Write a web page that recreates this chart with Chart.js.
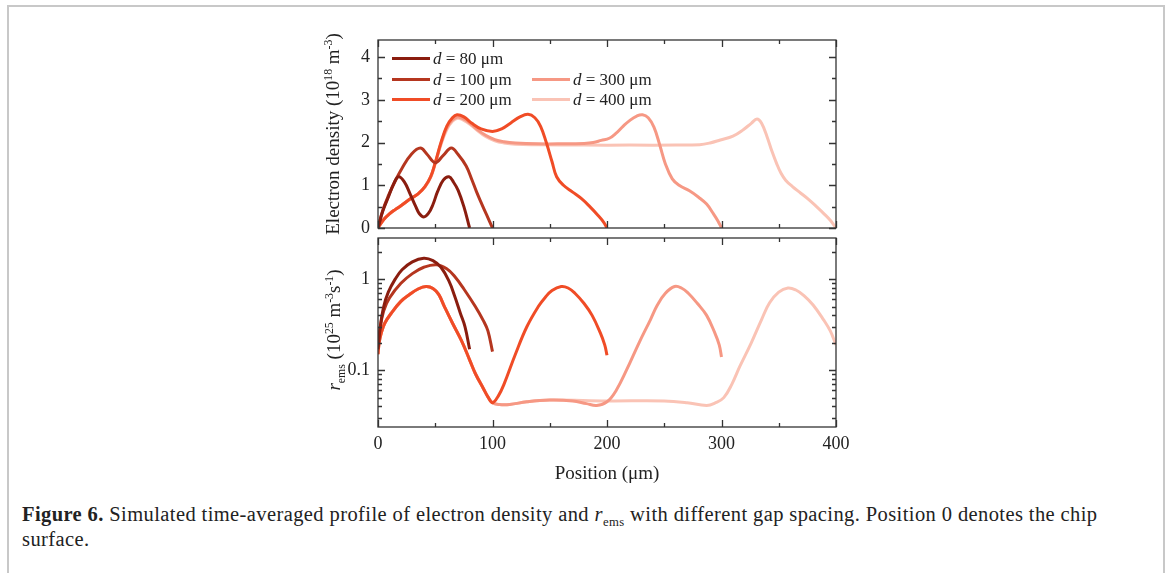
<!DOCTYPE html>
<html lang="en">
<head>
  <meta charset="UTF-8">
  <title>Figure 6</title>
  <script src="https://cdn.jsdelivr.net/npm/chart.js"></script>
  <style>
    body { margin: 0; background: #fff; font-family: "Liberation Serif", serif; color: #222; }
    #frame { position: absolute; left: 7px; top: 5px; width: 1154px; height: 620px; border: 2px solid #c8c8c8; border-bottom: none; }
    .plot { position: absolute; left: 270px; }
    .ytitle { position: absolute; white-space: nowrap; font-size: 19px; transform: translate(-50%, -50%) rotate(-90deg); z-index: 2; }
    .xtitle { position: absolute; white-space: nowrap; font-size: 19px; transform: translate(-50%, -50%); z-index: 2; }
    sup, sub { font-size: 0.62em; line-height: 0; }
    .leg { position: absolute; display: flex; align-items: center; height: 21px; font-size: 17px; white-space: nowrap; z-index: 2; }
    .sw { display: inline-block; width: 38px; height: 3px; margin-right: 3px; }
    #caption { position: absolute; left: 22px; top: 502px; font-size: 20.5px; letter-spacing: 0.4px; line-height: 25px; white-space: nowrap; }
  </style>
</head>
<body>
  <div id="frame"></div>

  <div class="plot" style="top:15px;"><canvas id="densChart" width="600" height="238"></canvas></div>
  <div class="plot" style="top:213px;"><canvas id="remsChart" width="600" height="254"></canvas></div>

  <div class="ytitle" style="left:333px; top:134px;">Electron density (10<sup>18</sup> m<sup>-3</sup>)</div>
  <div class="ytitle" style="left:334px; top:330px;"><i>r</i><sub>ems</sub> (10<sup>25</sup> m<sup>-3</sup>s<sup>-1</sup>)</div>
  <div class="xtitle" style="left:607px; top:473px;">Position (μm)</div>

  <div id="legend"></div>

  <div id="caption"><b>Figure 6.</b> Simulated time-averaged profile of electron density and <i>r</i><sub>ems</sub> with different gap spacing. Position 0 denotes the chip<br>surface.</div>

  <script>
    // gap spacings (um)
    const gaps = ['80', '100', '200', '300', '400'];
    const colors = ['#8a1d0f', '#b5361f', '#f04c26', '#f69884', '#fac3b5'];

    // electron density (10^18 m^-3) vs position (um)
    const posD80 = [0, 4, 9, 14, 18, 23, 28, 33, 36, 40, 44, 48, 52, 57, 62, 66, 70, 75, 80];
    const dens80 = [0, 0.38, 0.72, 1.05, 1.2, 1.08, 0.8, 0.5, 0.34, 0.26, 0.34, 0.55, 0.85, 1.12, 1.2, 1.07, 0.88, 0.5, 0];

    const posD100 = [0, 4, 9, 15, 21, 29, 37, 43, 50, 57, 64, 70, 77, 82, 86, 90, 95, 100];
    const dens100 = [0, 0.4, 0.75, 1.1, 1.4, 1.72, 1.87, 1.72, 1.53, 1.7, 1.87, 1.72, 1.45, 1.13, 0.85, 0.6, 0.3, 0];

    const posD200 = [0, 5, 10, 15, 20, 27, 35, 41, 46, 50, 55, 60, 65, 69, 75, 82, 90, 100, 108, 116, 124, 131, 137, 142, 147, 152, 156, 162, 170, 178, 185, 192, 197, 200];
    const dens200 = [0, 0.2, 0.33, 0.43, 0.52, 0.66, 0.8, 0.97, 1.2, 1.53, 2.0, 2.38, 2.58, 2.65, 2.6, 2.45, 2.32, 2.26, 2.32, 2.46, 2.6, 2.66, 2.58, 2.38, 2.0, 1.55, 1.2, 1.0, 0.84, 0.68, 0.5, 0.3, 0.14, 0];

    const posD300 = [0, 5, 10, 15, 20, 27, 35, 41, 46, 50, 55, 60, 65, 70, 78, 86, 94, 102, 110, 120, 140, 160, 180, 188, 195, 202, 208, 214, 220, 226, 231, 236, 241, 246, 251, 257, 263, 272, 280, 287, 293, 297, 300];
    const dens300 = [0, 0.2, 0.33, 0.43, 0.52, 0.66, 0.8, 0.97, 1.2, 1.52, 1.98, 2.34, 2.53, 2.6, 2.5, 2.32, 2.17, 2.07, 2.02, 1.99, 1.97, 1.97, 1.98, 2.0, 2.05, 2.1, 2.22, 2.38, 2.52, 2.62, 2.65, 2.58, 2.36, 1.95, 1.5, 1.15, 1.0, 0.87, 0.72, 0.56, 0.33, 0.16, 0];

    const posD400 = [0, 5, 10, 15, 20, 27, 35, 41, 46, 50, 55, 60, 65, 70, 78, 86, 94, 102, 110, 120, 140, 180, 220, 260, 281, 290, 299, 310, 319, 326, 331, 335, 340, 344, 348, 352, 356, 362, 369, 376, 383, 390, 395, 400];
    const dens400 = [0, 0.2, 0.33, 0.43, 0.52, 0.66, 0.8, 0.96, 1.18, 1.5, 1.95, 2.3, 2.5, 2.57, 2.47, 2.3, 2.14, 2.04, 1.99, 1.96, 1.95, 1.94, 1.94, 1.94, 1.95, 1.99, 2.06, 2.15, 2.3, 2.45, 2.55, 2.45, 2.12, 1.8, 1.52, 1.28, 1.12, 0.97, 0.82, 0.67, 0.5, 0.32, 0.18, 0];

    // r_ems (10^25 m^-3 s^-1) vs position (um)
    const posR80 = [0, 2, 5, 9, 15, 21, 30, 40, 48, 55, 62, 67, 72, 76, 80];
    const rems80 = [0.17, 0.3, 0.5, 0.72, 1.0, 1.27, 1.55, 1.7, 1.6, 1.35, 0.95, 0.65, 0.42, 0.3, 0.17];

    const posR100 = [0, 2, 5, 10, 20, 30, 40, 51, 60, 67, 75, 85, 92, 96, 100];
    const rems100 = [0.18, 0.3, 0.45, 0.62, 0.9, 1.15, 1.35, 1.44, 1.3, 1.07, 0.78, 0.5, 0.35, 0.27, 0.16];

    const posR200 = [0, 1, 3, 6, 12, 20, 27, 35, 42, 48, 53, 58, 65, 73, 80, 85, 92, 96, 100, 105, 110, 120, 130, 140, 146, 152, 160, 166, 172, 180, 187, 194, 198, 200];
    const rems200 = [0.15, 0.2, 0.26, 0.33, 0.43, 0.57, 0.67, 0.78, 0.83, 0.79, 0.68, 0.5, 0.33, 0.21, 0.13, 0.092, 0.063, 0.051, 0.044, 0.052, 0.07, 0.15, 0.3, 0.5, 0.63, 0.75, 0.83, 0.8, 0.7, 0.54, 0.4, 0.26, 0.19, 0.146];

    const posR300 = [0, 1, 3, 6, 12, 20, 27, 35, 42, 48, 53, 58, 65, 73, 80, 85, 92, 96, 100, 106, 115, 130, 150, 170, 182, 191, 200, 208, 217, 228, 238, 244, 251, 259, 265, 271, 279, 287, 294, 298, 300];
    const rems300 = [0.15, 0.2, 0.26, 0.33, 0.43, 0.57, 0.67, 0.78, 0.83, 0.79, 0.68, 0.5, 0.33, 0.21, 0.13, 0.092, 0.063, 0.051, 0.044, 0.042, 0.042, 0.045, 0.047, 0.046, 0.043, 0.041, 0.045, 0.06, 0.1, 0.2, 0.36, 0.52, 0.7, 0.83, 0.8, 0.7, 0.54, 0.4, 0.26, 0.19, 0.14];

    const posR400 = [0, 1, 3, 6, 12, 20, 27, 35, 42, 48, 53, 58, 65, 73, 80, 85, 92, 96, 100, 106, 115, 130, 150, 200, 250, 270, 287, 295, 302, 309, 316, 326, 335, 342, 350, 358, 365, 372, 380, 389, 395, 400];
    const rems400 = [0.15, 0.2, 0.26, 0.33, 0.43, 0.57, 0.67, 0.78, 0.83, 0.79, 0.68, 0.5, 0.33, 0.21, 0.13, 0.092, 0.063, 0.051, 0.044, 0.042, 0.042, 0.045, 0.047, 0.046, 0.046, 0.044, 0.041, 0.044, 0.05, 0.07, 0.11, 0.2, 0.36, 0.55, 0.72, 0.8, 0.76, 0.66, 0.52, 0.36, 0.27, 0.19];

    // axis ticks
    const xTickLabels = [0, 100, 200, 300, 400];
    const xMinorTicks = [50, 150, 250, 350];
    const densTickLabels = [0, 1, 2, 3, 4];
    const densMinorTicks = [0.5, 1.5, 2.5, 3.5];
    const remsTickLabels = [0.1, 1];
    const remsMinorTicks = [0.03, 0.04, 0.05, 0.06, 0.07, 0.08, 0.09, 0.2, 0.3, 0.4, 0.5, 0.6, 0.7, 0.8, 0.9, 2];

    function series(xs, ys) {
      return xs.map((x, i) => ({ x: x, y: ys[i] }));
    }

    function makeDatasets(posList, valList) {
      return gaps.map((g, i) => ({
        label: 'd = ' + g + ' μm',
        data: series(posList[i], valList[i]),
        borderColor: colors[i],
        borderWidth: 3,
        pointRadius: 0,
        fill: false,
        tension: 0.4
      }));
    }

    // closed frame with inward tick marks on all four sides
    const frameTicks = {
      id: 'frameTicks',
      afterDatasetsDraw(chart, args, opts) {
        const { ctx, chartArea: a } = chart;
        const xs = chart.scales.x, ys = chart.scales.y;
        ctx.save();
        ctx.strokeStyle = '#333';
        ctx.lineWidth = 1.3;
        ctx.strokeRect(a.left, a.top, a.right - a.left, a.bottom - a.top);
        ctx.beginPath();
        const xt = (list, len) => list.forEach(v => {
          const p = Math.round(xs.getPixelForValue(v)) + 0.5;
          ctx.moveTo(p, a.bottom); ctx.lineTo(p, a.bottom - len);
          ctx.moveTo(p, a.top); ctx.lineTo(p, a.top + len);
        });
        const yt = (list, len) => list.forEach(v => {
          const p = Math.round(ys.getPixelForValue(v)) + 0.5;
          ctx.moveTo(a.left, p); ctx.lineTo(a.left + len, p);
          ctx.moveTo(a.right, p); ctx.lineTo(a.right - len, p);
        });
        xt(xTickLabels, 7); xt(xMinorTicks, 4);
        yt(opts.major, 7); yt(opts.minor, 4);
        ctx.stroke();
        ctx.restore();
      }
    };

    const tickFont = { family: 'Liberation Serif', size: 18 };

    new Chart(document.getElementById('densChart'), {
      type: 'line',
      data: {
        datasets: makeDatasets([posD80, posD100, posD200, posD300, posD400], [dens80, dens100, dens200, dens300, dens400])
      },
      options: {
        responsive: false,
        animation: false,
        devicePixelRatio: 1,
        layout: { padding: { left: 20, right: 34, top: 25, bottom: 25 } },
        scales: {
          x: { type: 'linear', min: 0, max: 400, display: false },
          y: {
            min: 0, max: 4.4,
            afterFit: s => { s.width = 88; },
            afterBuildTicks: s => { s.ticks = densTickLabels.map(v => ({ value: v })); },
            grid: { display: false, drawTicks: false },
            border: { display: false },
            ticks: { padding: 8, color: '#222', font: tickFont }
          }
        },
        plugins: {
          legend: { display: false },
          tooltip: { enabled: false },
          frameTicks: { major: densTickLabels, minor: densMinorTicks }
        }
      },
      plugins: [frameTicks]
    });

    new Chart(document.getElementById('remsChart'), {
      type: 'line',
      data: {
        datasets: makeDatasets([posR80, posR100, posR200, posR300, posR400], [rems80, rems100, rems200, rems300, rems400])
      },
      options: {
        responsive: false,
        animation: false,
        devicePixelRatio: 1,
        layout: { padding: { left: 20, right: 34, top: 25, bottom: 10 } },
        scales: {
          x: {
            type: 'linear', min: 0, max: 400,
            afterFit: s => { s.height = 30; },
            afterBuildTicks: s => { s.ticks = xTickLabels.map(v => ({ value: v })); },
            grid: { display: false, drawTicks: false },
            border: { display: false },
            ticks: { padding: 6, color: '#222', font: tickFont, maxRotation: 0 }
          },
          y: {
            type: 'logarithmic', min: 0.0238, max: 2.83,
            afterFit: s => { s.width = 88; },
            afterBuildTicks: s => { s.ticks = remsTickLabels.map(v => ({ value: v })); },
            grid: { display: false, drawTicks: false },
            border: { display: false },
            ticks: { padding: 8, color: '#222', font: tickFont, callback: v => String(v) }
          }
        },
        plugins: {
          legend: { display: false },
          tooltip: { enabled: false },
          frameTicks: { major: remsTickLabels, minor: remsMinorTicks }
        }
      },
      plugins: [frameTicks]
    });

    // legend: two columns inside the upper panel
    const legendSpots = [[392, 48], [392, 69], [392, 89], [532, 69], [532, 89]];
    const legendBox = document.getElementById('legend');
    gaps.forEach((g, i) => {
      const row = document.createElement('div');
      row.className = 'leg';
      row.style.left = legendSpots[i][0] + 'px';
      row.style.top = legendSpots[i][1] + 'px';
      row.innerHTML = '<span class="sw" style="background:' + colors[i] + '"></span><i>d</i>&nbsp;=&nbsp;' + g + '&nbsp;μm';
      legendBox.appendChild(row);
    });
  </script>
</body>
</html>
